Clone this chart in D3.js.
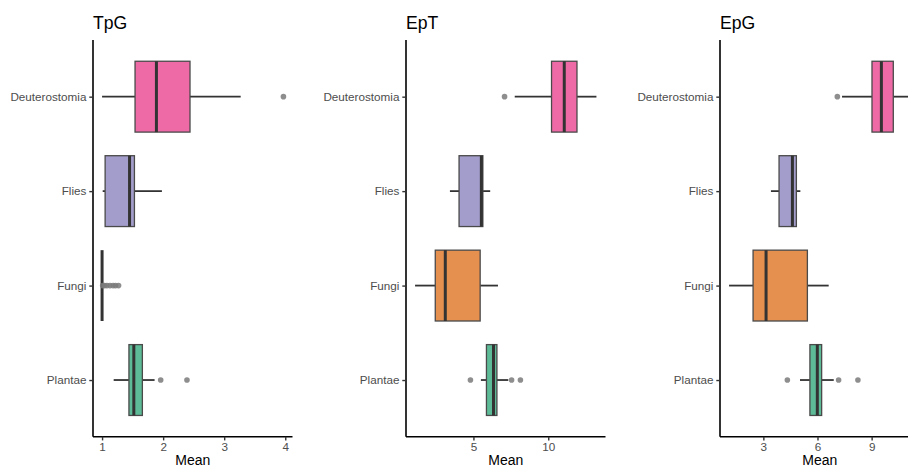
<!DOCTYPE html>
<html><head><meta charset="utf-8">
<script src="https://cdn.jsdelivr.net/npm/d3@7"></script>
<style>body{margin:0;background:#fff}svg{display:block}text{font-family:"Liberation Sans",Arial,sans-serif}</style>
</head><body><svg id="c" width="908" height="467"></svg>
<script>
const categories = ["Deuterostomia","Flies","Fungi","Plantae"];
const panelTitles = ["TpG","EpT","EpG"];
const colors = ["#EE6AA7","#A29DCB","#E5904F","#5DBB98"];
// [lower whisker, Q1, median, Q3, upper whisker] per category
const tpgStats = [[1.00,1.54,1.89,2.44,3.27],[1.01,1.05,1.45,1.53,1.98],[1.00,1.00,1.00,1.00,1.00],[1.19,1.44,1.52,1.66,1.86]];
const tpgOutliers = [[3.97],[],[1.01,1.04,1.08,1.13,1.18,1.22,1.27],[1.96,2.39]];
const eptStats = [[7.76,10.22,11.07,11.92,13.22],[3.43,4.04,5.53,5.63,6.12],[1.10,2.45,3.12,5.45,6.64],[5.50,5.87,6.34,6.57,7.33]];
const eptOutliers = [[7.08],[],[],[4.80,7.55,8.14]];
const epgStats = [[7.36,9.02,9.54,10.20,11.15],[3.42,3.87,4.61,4.83,5.05],[1.10,2.43,3.15,5.44,6.62],[5.03,5.58,5.99,6.23,6.90]];
const epgOutliers = [[7.10],[],[],[4.33,7.17,8.24]];
const tpgTicks = [1,2,3,4];
const eptTicks = [5,10];
const epgTicks = [3,6,9];
const xTitle = "Mean";

const panels = [
  {title:panelTitles[0], stats:tpgStats, out:tpgOutliers, ticks:tpgTicks, x0:93},
  {title:panelTitles[1], stats:eptStats, out:eptOutliers, ticks:eptTicks, x0:406},
  {title:panelTitles[2], stats:epgStats, out:epgOutliers, ticks:epgTicks, x0:720}
];
const W = 199.5, plotTop = 40, plotBottom = 436.7;
const svg = d3.select("#c");

panels.forEach(p => {
  const all = p.stats.flat().concat(p.out.flat());
  const [mn, mx] = d3.extent(all);
  const pad = (mx - mn) * 0.05;
  const x = d3.scaleLinear().domain([mn - pad, mx + pad]).range([p.x0, p.x0 + W]);
  const y = d3.scalePoint().domain(categories).range([plotTop, plotBottom]).padding(0.6);
  const bh = y.step() * 0.75;
  const g = svg.append("g");

  categories.forEach((c, i) => {
    const s = p.stats[i], cy = y(c);
    g.append("line").attr("x1", x(s[0])).attr("x2", x(s[1])).attr("y1", cy).attr("y2", cy)
      .attr("stroke", "#333").attr("stroke-width", 1.8);
    g.append("line").attr("x1", x(s[3])).attr("x2", x(s[4])).attr("y1", cy).attr("y2", cy)
      .attr("stroke", "#333").attr("stroke-width", 1.8);
    g.append("rect").attr("x", x(s[1])).attr("width", Math.max(0, x(s[3]) - x(s[1])))
      .attr("y", cy - bh / 2).attr("height", bh)
      .attr("fill", colors[i]).attr("stroke", "#4a4a4a").attr("stroke-width", 1.3);
    g.append("line").attr("x1", x(s[2])).attr("x2", x(s[2])).attr("y1", cy - bh / 2).attr("y2", cy + bh / 2)
      .attr("stroke", "#333").attr("stroke-width", 3);
    p.out[i].forEach(v => {
      g.append("circle").attr("cx", x(v)).attr("cy", cy).attr("r", 2.8)
        .attr("fill", "#7a7a7a").attr("fill-opacity", 0.85);
    });
  });

  const ya = g.append("g").attr("transform", `translate(${p.x0},0)`)
    .call(d3.axisLeft(y).tickSize(3.7).tickPadding(2.9));
  ya.select(".domain").attr("stroke", "#000").attr("stroke-width", 1.6).attr("d", `M0,${plotTop}V${plotBottom}`);
  ya.selectAll(".tick line").attr("stroke", "#333").attr("stroke-width", 1.4);
  ya.selectAll(".tick text").attr("fill", "#4D4D4D").style("font-size", "11.7px")
    .style("font-family", '"Liberation Sans",Arial,sans-serif');

  const xa = g.append("g").attr("transform", `translate(0,${plotBottom})`)
    .call(d3.axisBottom(x).tickValues(p.ticks).tickFormat(d3.format("d")).tickSize(3.7).tickPadding(2.4));
  xa.select(".domain").attr("stroke", "#000").attr("stroke-width", 1.6).attr("d", `M${p.x0},0H${p.x0 + W}`);
  xa.selectAll(".tick line").attr("stroke", "#333").attr("stroke-width", 1.4);
  xa.selectAll(".tick text").attr("fill", "#4D4D4D").style("font-size", "11.7px")
    .style("font-family", '"Liberation Sans",Arial,sans-serif');

  g.append("text").attr("x", p.x0).attr("y", 29).attr("fill", "#000")
    .style("font-size", "17.6px").text(p.title);
  g.append("text").attr("x", p.x0 + W / 2).attr("y", 465).attr("text-anchor", "middle")
    .attr("fill", "#000").style("font-size", "14px").text(xTitle);
});
</script></body></html>
